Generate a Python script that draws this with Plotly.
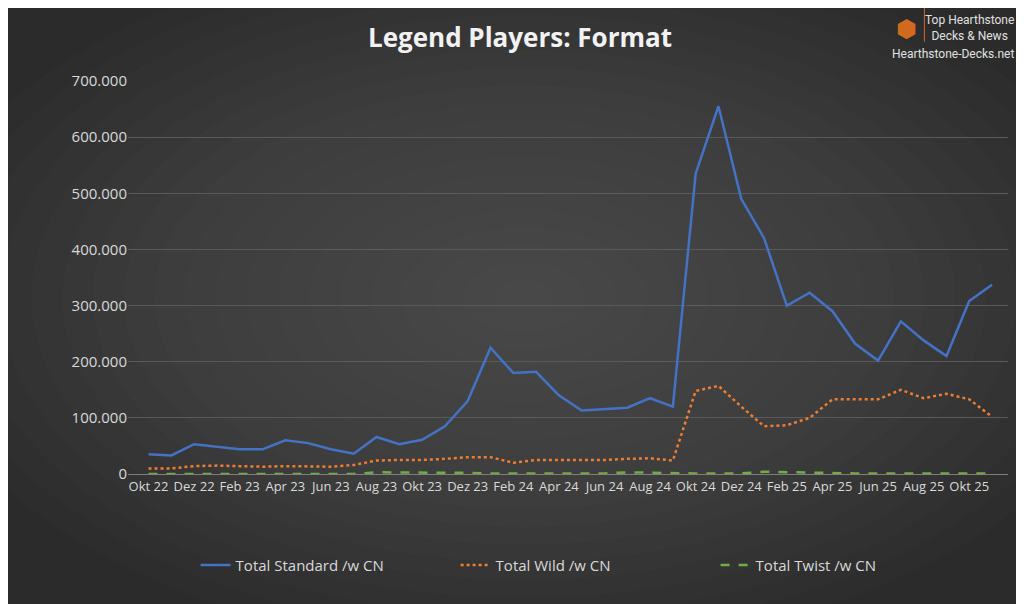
import plotly.graph_objects as go

months = ["Okt","Nov","Dez","Jan","Feb","Mär","Apr","Mai","Jun","Jul","Aug","Sep"]
labels = []
y, m = 22, 0
for i in range(38):
    labels.append(f"{months[m]} {y}")
    m += 1
    if months[m % 12] == "Jan":
        y += 1
    m %= 12
tick_labels = labels[::2]

standard = [35,33,53,48,44,44,60,55,44,36,66,53,61,85,130,225,180,182,140,113,115,118,135,120,535,655,490,420,300,323,290,232,202,272,238,210,308,337]
wild = [10,10,14,15,14,13,14,13,13,16,24,25,25,27,30,30,20,25,25,25,25,27,28,24,148,157,120,85,87,100,133,133,133,150,135,143,133,102]
twist = [0,0,0,0,0,0,0,0,0,0,3,3,3,3,2,1,1,1,1,1,1,3,2,1,1,1,1,4,3,2,1,1,1,1,1,1,1,1]

fig = go.Figure()
fig.add_trace(go.Scatter(x=labels, y=[v*1000 for v in standard], name="Total Standard /w CN", mode="lines", line=dict(color="#4472C4", width=2.5)))
fig.add_trace(go.Scatter(x=labels, y=[v*1000 for v in wild], name="Total Wild /w CN", mode="lines", line=dict(color="#ED7D31", width=2.5, dash="dot")))
fig.add_trace(go.Scatter(x=labels, y=[v*1000 for v in twist], name="Total Twist /w CN", mode="lines", line=dict(color="#70AD47", width=2.5, dash="dash")))

shapes = []
N = 20
for k in range(N):
    f = k / N
    shapes.append(dict(type="circle", xref="paper", yref="paper", layer="below",
                       x0=0.45-0.7*(1-f), x1=0.45+0.7*(1-f), y0=0.45-0.9*(1-f), y1=0.45+0.9*(1-f),
                       fillcolor="rgba(90,90,90,0.05)", line=dict(width=0)))
shapes.append(dict(type="line", xref="paper", yref="paper", x0=0.905, x1=0.905, y0=1.19, y1=1.1,
                   line=dict(color="#d06a1e", width=1)))

fig.update_layout(
    width=1024, height=604,
    paper_bgcolor="#2b2b2b", plot_bgcolor="rgba(0,0,0,0)",
    margin=dict(l=120, r=24, t=73, b=138),
    font=dict(family="Open Sans, Noto Sans, sans-serif", color="#d9d9d9", size=14),
    title=dict(text="<b>Legend Players: Format</b>", x=0.5, y=0.965, xanchor="center",
               font=dict(size=26, color="#f2f2f2", family="Open Sans")),
    xaxis=dict(tickmode="array", tickvals=tick_labels, ticktext=tick_labels, tickangle=0,
               showgrid=False, showline=True, linecolor="#7f7f7f", ticks="",
               tickfont=dict(size=13, color="#d9d9d9"), range=[-0.9, 37.7]),
    yaxis=dict(range=[0, 700000], dtick=100000, tickformat=",.0f",
               gridcolor="#5a5a5a", zeroline=False, tickfont=dict(size=15, color="#d9d9d9")),
    separators=",.",
    legend=dict(orientation="h", x=0.52, xanchor="center", y=-0.19, yanchor="top",
                bgcolor="rgba(0,0,0,0)",
                font=dict(size=15, color="#d9d9d9"), entrywidth=215),
    shapes=shapes,
    annotations=[
        dict(text="Top Hearthstone<br>Decks & News", xref="paper", yref="paper", x=1.0, y=1.0,
             xanchor="right", yanchor="top", yshift=70, xshift=8, showarrow=False, align="center",
             font=dict(size=12, color="#e0e0e0", family="Roboto")),
        dict(text="Hearthstone-Decks.net", xref="paper", yref="paper", x=1.0, y=1.0,
             xanchor="right", yanchor="top", yshift=36, xshift=8, showarrow=False,
             font=dict(size=12, color="#e0e0e0", family="Roboto")),
        dict(text="⬢", xref="paper", yref="paper", x=0.885, y=1.0, yshift=72, xanchor="center",
             yanchor="top", showarrow=False, font=dict(size=24, color="#d06a1e")),
    ],
)
fig.write_html("out.html")
